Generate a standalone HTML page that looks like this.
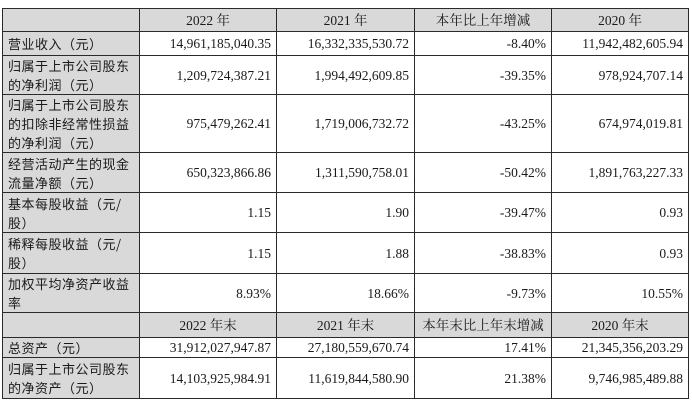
<!DOCTYPE html>
<html><head><meta charset="utf-8">
<style>
html,body{margin:0;padding:0;background:#fff;width:692px;height:402px;overflow:hidden}
table{position:absolute;left:2px;top:8px;border-collapse:collapse;table-layout:fixed;font-family:"Liberation Serif","Noto Serif CJK SC","Noto Sans CJK SC",serif;font-size:13.5px;color:#1a1a1a}
td{border:1px solid #2a2a2a;padding:0 5px;line-height:19px;text-align:right;white-space:nowrap;overflow:hidden}
td.l{text-align:left;background:#d9d9d9;padding-left:5px;white-space:normal;font-family:"Noto Sans CJK SC","Liberation Sans",sans-serif;font-size:13px;letter-spacing:0.5px}
tr.h td{background:#d9d9d9;text-align:center}
</style></head><body>
<table>
<colgroup><col style="width:137px"><col style="width:137px"><col style="width:138px"><col style="width:137px"><col style="width:137px"></colgroup>
<tr class="h" style="height:23px"><td></td><td>2022 年</td><td>2021 年</td><td>本年比上年增减</td><td>2020 年</td></tr>
<tr style="height:24px"><td class="l">营业收入（元）</td><td>14,961,185,040.35</td><td>16,332,335,530.72</td><td>-8.40%</td><td>11,942,482,605.94</td></tr>
<tr style="height:39px"><td class="l">归属于上市公司股东的净利润（元）</td><td>1,209,724,387.21</td><td>1,994,492,609.85</td><td>-39.35%</td><td>978,924,707.14</td></tr>
<tr style="height:58px"><td class="l">归属于上市公司股东的扣除非经常性损益的净利润（元）</td><td>975,479,262.41</td><td>1,719,006,732.72</td><td>-43.25%</td><td>674,974,019.81</td></tr>
<tr style="height:40px"><td class="l">经营活动产生的现金流量净额（元）</td><td>650,323,866.86</td><td>1,311,590,758.01</td><td>-50.42%</td><td>1,891,763,227.33</td></tr>
<tr style="height:40px"><td class="l">基本每股收益（元/股）</td><td>1.15</td><td>1.90</td><td>-39.47%</td><td>0.93</td></tr>
<tr style="height:41px"><td class="l">稀释每股收益（元/股）</td><td>1.15</td><td>1.88</td><td>-38.83%</td><td>0.93</td></tr>
<tr style="height:39px"><td class="l">加权平均净资产收益率</td><td>8.93%</td><td>18.66%</td><td>-9.73%</td><td>10.55%</td></tr>
<tr class="h" style="height:25px"><td></td><td>2022 年末</td><td>2021 年末</td><td>本年末比上年末增减</td><td>2020 年末</td></tr>
<tr style="height:20px"><td class="l">总资产（元）</td><td>31,912,027,947.87</td><td>27,180,559,670.74</td><td>17.41%</td><td>21,345,356,203.29</td></tr>
<tr style="height:41px"><td class="l">归属于上市公司股东的净资产（元）</td><td>14,103,925,984.91</td><td>11,619,844,580.90</td><td>21.38%</td><td>9,746,985,489.88</td></tr>
</table>
</body></html>
